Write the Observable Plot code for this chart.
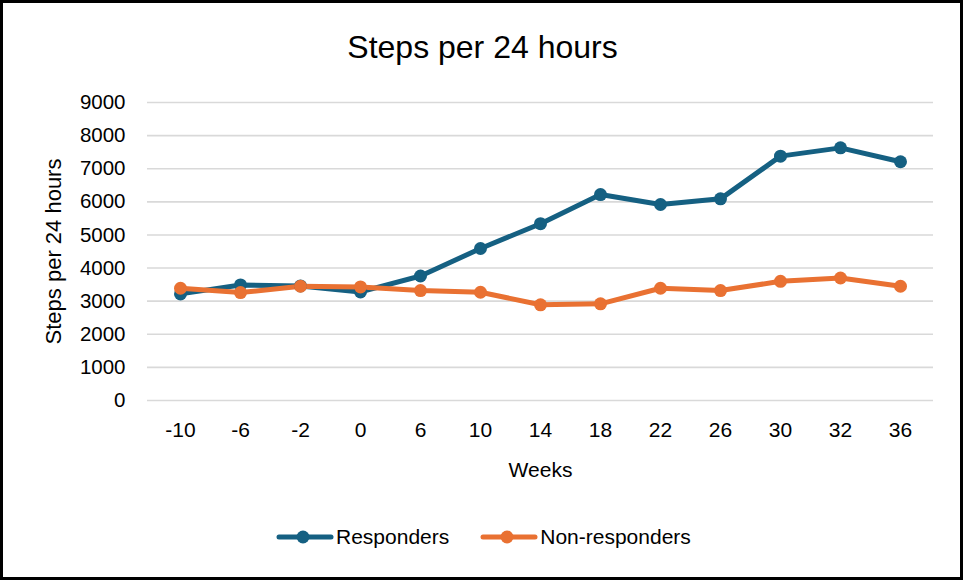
<!DOCTYPE html>
<html>
<head>
<meta charset="utf-8">
<script src="https://cdn.jsdelivr.net/npm/d3@7"></script>
<script src="https://cdn.jsdelivr.net/npm/@observablehq/plot@0.6"></script>
<style>
  body { margin: 0; background: #fff; font-family: "Liberation Sans", Arial, sans-serif; }
  #wrap { position: relative; width: 965px; height: 582px; background: #fff; }
  #frame { position: absolute; left: 0; top: 0; width: 963px; height: 580px; box-sizing: border-box; border: 3px solid #000; }
  #title { position: absolute; left: 0; top: 29px; width: 965px; text-align: center; font-size: 32px; line-height: 36px; color: #000; }
  #chart { position: absolute; left: 0; top: 0; }
  #legend { position: absolute; left: 276px; top: 525px; display: flex; align-items: center; font-size: 21px; color: #000; }
  .item { display: flex; align-items: center; margin-right: 31px; }
  .item svg { margin-right: 2px; }
</style>
</head>
<body>
<div id="wrap">
  <div id="frame"></div>
  <div id="title">Steps per 24 hours</div>
  <div id="chart"></div>
  <div id="legend"></div>
</div>
<script>
const weeks = ["-10", "-6", "-2", "0", "6", "10", "14", "18", "22", "26", "30", "32", "36"];
const responders = [3220, 3490, 3460, 3280, 3760, 4590, 5340, 6220, 5920, 6090, 7380, 7630, 7210];
const nonResponders = [3390, 3260, 3450, 3430, 3320, 3270, 2890, 2920, 3390, 3320, 3600, 3700, 3450];
const yTicks = [0, 1000, 2000, 3000, 4000, 5000, 6000, 7000, 8000, 9000];
const seriesNames = ["Responders", "Non-responders"];
const seriesColors = ["#156082", "#E97132"];

const data = [];
weeks.forEach((w, i) => data.push({week: w, steps: responders[i], series: seriesNames[0]}));
weeks.forEach((w, i) => data.push({week: w, steps: nonResponders[i], series: seriesNames[1]}));

const chart = Plot.plot({
  width: 965,
  height: 500,
  marginLeft: 147,
  marginRight: 32,
  marginTop: 102,
  marginBottom: 100,
  style: {fontFamily: "'Liberation Sans', Arial, sans-serif", fontSize: "21px", color: "#000", background: "transparent"},
  x: {type: "point", domain: weeks, padding: 0.5},
  y: {domain: [0, 9000]},
  color: {domain: seriesNames, range: seriesColors},
  marks: [
    Plot.gridY(yTicks, {stroke: "#d9d9d9", strokeOpacity: 1, strokeWidth: 1.6}),
    Plot.axisY(yTicks, {tickSize: 0, tickPadding: 22, fontSize: 20.5, tickFormat: d => String(d), label: null}),
    Plot.text(["Steps per 24 hours"], {frameAnchor: "left", dx: -102, rotate: -90, fontSize: 22, textAnchor: "middle", lineAnchor: "top"}),
    Plot.axisX({tickSize: 0, tickPadding: 22, fontSize: 21, label: "Weeks", labelAnchor: "center", labelArrow: "none", labelOffset: 76}),
    Plot.line(data, {x: "week", y: "steps", z: "series", stroke: "series", strokeWidth: 5, strokeLinejoin: "round", strokeLinecap: "round"}),
    Plot.dot(data, {x: "week", y: "steps", fill: "series", r: 6.5, stroke: null})
  ]
});
document.getElementById("chart").appendChild(chart);

const legend = document.getElementById("legend");
seriesNames.forEach((name, i) => {
  const item = document.createElement("div");
  item.className = "item";
  item.innerHTML = `<svg width="58" height="20"><line x1="3" y1="10" x2="55" y2="10" stroke="${seriesColors[i]}" stroke-width="5" stroke-linecap="round"/><circle cx="27" cy="10" r="6.5" fill="${seriesColors[i]}"/></svg><span>${name}</span>`;
  legend.appendChild(item);
});
</script>
</body>
</html>
